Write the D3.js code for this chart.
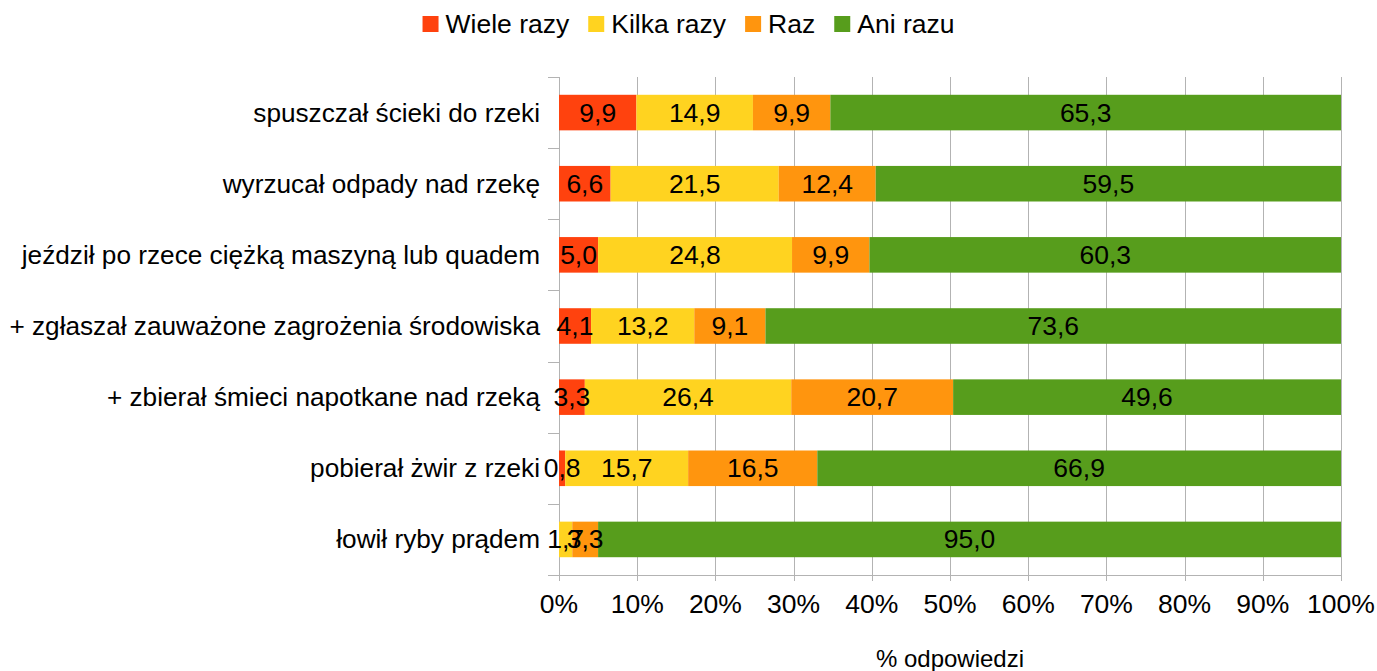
<!DOCTYPE html>
<html><head><meta charset="utf-8">
<script src="https://cdn.jsdelivr.net/npm/d3@7/dist/d3.min.js"></script>
<style>
body{margin:0;background:#fff;}
text{font-family:"Liberation Sans",Arial,sans-serif;fill:#000;}
</style></head>
<body>
<svg id="c" width="1377" height="671"></svg>
<script>
const categories = [
  "spuszczał ścieki do rzeki",
  "wyrzucał odpady nad rzekę",
  "jeździł po rzece ciężką maszyną lub quadem",
  "+ zgłaszał zauważone zagrożenia środowiska",
  "+ zbierał śmieci napotkane nad rzeką",
  "pobierał żwir z rzeki",
  "łowił ryby prądem"
];
const seriesNames = ["Wiele razy", "Kilka razy", "Raz", "Ani razu"];
const wieleRazy = [9.9, 6.6, 5.0, 4.1, 3.3, 0.8, 0.0];
const kilkaRazy = [14.9, 21.5, 24.8, 13.2, 26.4, 15.7, 1.7];
const raz       = [9.9, 12.4, 9.9, 9.1, 20.7, 16.5, 3.3];
const aniRazu   = [65.3, 59.5, 60.3, 73.6, 49.6, 66.9, 95.0];
const xTicks = [0,10,20,30,40,50,60,70,80,90,100];
const colors = ["#ff420e", "#ffd320", "#ff950e", "#579d1c"];

(function(){
const FS = "26.5px";
const seriesVals = [wieleRazy, kilkaRazy, raz, aniRazu];
const rows = categories.map((c, i) => {
  const o = {cat: c};
  seriesNames.forEach((s, k) => o[s] = seriesVals[k][i]);
  return o;
});

const svg = d3.select("#c");
const pL = 559, pR = 1341, pT = 77, pB = 575;
const x = d3.scaleLinear().domain([0, 100]).range([pL, pR]);
const y = d3.scaleBand().domain(categories).range([pT, pB]).paddingInner(0.5).paddingOuter(0.25);
const yb = d3.scaleBand().domain(categories).range([pT, pB]);

svg.append("g").selectAll("line").data(xTicks).join("line")
  .attr("x1", d => Math.round(x(d)) + 0.5).attr("x2", d => Math.round(x(d)) + 0.5)
  .attr("y1", pT).attr("y2", pB + 6)
  .attr("stroke", "#b3b3b3").attr("stroke-width", 1);

svg.append("line").attr("x1", pL + 0.5).attr("x2", pL + 0.5).attr("y1", pT).attr("y2", pB)
  .attr("stroke", "#b3b3b3");
const bounds = categories.map(c => yb(c)).concat([pB]);
svg.append("g").selectAll("line").data(bounds).join("line")
  .attr("x1", pL - 11).attr("x2", pL).attr("y1", d => Math.round(d) + 0.5).attr("y2", d => Math.round(d) + 0.5)
  .attr("stroke", "#b3b3b3");
svg.append("line").attr("x1", pL - 11).attr("x2", pR).attr("y1", pB + 0.5).attr("y2", pB + 0.5)
  .attr("stroke", "#b3b3b3");

const stack = d3.stack().keys(seriesNames).offset(d3.stackOffsetExpand);
const stacked = stack(rows);
const xs = d3.scaleLinear().domain([0, 1]).range([pL, pR]);

const g = svg.append("g");
stacked.forEach((layer, k) => {
  g.append("g").selectAll("rect").data(layer).join("rect")
    .attr("x", d => xs(d[0]))
    .attr("width", d => Math.max(0, xs(d[1]) - xs(d[0])))
    .attr("y", d => y(d.data.cat))
    .attr("height", y.bandwidth())
    .attr("fill", colors[k]);
});
stacked.forEach((layer, k) => {
  g.append("g").selectAll("text").data(layer.filter(d => d.data[seriesNames[k]] > 0)).join("text")
    .attr("x", d => (xs(d[0]) + xs(d[1])) / 2)
    .attr("y", d => y(d.data.cat) + y.bandwidth() / 2)
    .attr("text-anchor", "middle").attr("dominant-baseline", "central")
    .style("font-size", FS)
    .text(d => d.data[seriesNames[k]].toFixed(1).replace(".", ","));
});

svg.append("g").selectAll("text").data(categories).join("text")
  .attr("x", 540).attr("y", d => y(d) + y.bandwidth() / 2)
  .attr("text-anchor", "end").attr("dominant-baseline", "central")
  .style("font-size", "26.2px").text(d => d);

svg.append("g").selectAll("text").data(xTicks).join("text")
  .attr("x", d => x(d)).attr("y", 604)
  .attr("text-anchor", "middle").attr("dominant-baseline", "central")
  .style("font-size", FS).text(d => d + "%");

svg.append("text").attr("x", (pL + pR) / 2).attr("y", 658)
  .attr("text-anchor", "middle").attr("dominant-baseline", "central")
  .style("font-size", "24px").text("% odpowiedzi");

const lg = svg.append("g");
const items = [];
seriesNames.forEach((s, k) => {
  const it = lg.append("g");
  it.append("rect").attr("x", 0).attr("y", -8).attr("width", 16).attr("height", 16).attr("fill", colors[k]);
  const t = it.append("text").attr("x", 23).attr("y", 0).attr("dominant-baseline", "central")
    .style("font-size", FS).text(s);
  const w = 23 + t.node().getComputedTextLength();
  items.push({it, w});
});
const gap = 19;
const total = items.reduce((a, b) => a + b.w, 0) + gap * (items.length - 1);
let sx = 1377 / 2 - total / 2;
items.forEach(({it, w}) => { it.attr("transform", `translate(${sx},24)`); sx += w + gap; });
})();
</script>
</body></html>
